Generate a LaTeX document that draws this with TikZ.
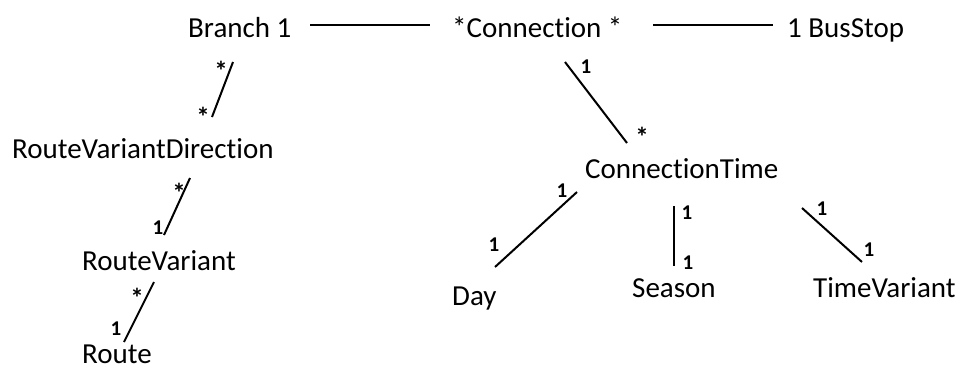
\documentclass[tikz,border=0pt]{standalone}
\usepackage{fontspec}
\setmainfont{Carlito}[Ligatures={NoCommon,NoContextual}]
\begin{document}
\begin{tikzpicture}[x=1pt,y=-1pt,
  cls/.style={inner sep=0pt,anchor=base west,font=\fontsize{29}{34}\selectfont},
  mult/.style={inner sep=0pt,font=\fontsize{21}{24}\selectfont\bfseries},
  star/.style={inner sep=0pt,anchor=north,font=\fontsize{27}{30}\selectfont\bfseries},
  assoc/.style={line width=2pt,black}]
\useasboundingbox (0,0) rectangle (960,370);
% classes
\node[cls] (branch) at (188,37) {Branch 1};
\node[cls] (conn) at (452,37) {*Connection *};
\node[cls] (bus) at (787,37) {1 BusStop};
\node[cls] (rvd) at (12,158) {RouteVariantDirection};
\node[cls] (rv) at (82,270) {RouteVariant};
\node[cls] (route) at (82,363) {Route};
\node[cls] (ct) at (585,178) {ConnectionTime};
\node[cls] (day) at (452,305) {Day};
\node[cls] (season) at (632,297) {Season};
\node[cls] (tv) at (813,297) {TimeVariant};
% connector ends
\coordinate (a1) at (310,25); \coordinate (a2) at (430,25);
\coordinate (b1) at (653,25); \coordinate (b2) at (773,25);
\coordinate (c1) at (233,62); \coordinate (c2) at (212,117);
\coordinate (d1) at (190,178); \coordinate (d2) at (164,235);
\coordinate (e1) at (154,282); \coordinate (e2) at (124,342);
\coordinate (f1) at (565,62); \coordinate (f2) at (627,143);
\coordinate (g1) at (577,192); \coordinate (g2) at (495,267);
\coordinate (h1) at (674,206); \coordinate (h2) at (674,266);
\coordinate (i1) at (802,208); \coordinate (i2) at (862,262);
\draw[assoc] (a1) -- (a2);
\draw[assoc] (b1) -- (b2);
\draw[assoc] (c1) -- (c2);
\draw[assoc] (d1) -- (d2);
\draw[assoc] (e1) -- (e2);
\draw[assoc] (f1) -- (f2);
\draw[assoc] (g1) -- (g2);
\draw[assoc] (h1) -- (h2);
\draw[assoc] (i1) -- (i2);
% multiplicities
\node[star] (m1) at (221,61) {*};
\node[star] (m2) at (203,107) {*};
\node[star] (m3) at (179,183) {*};
\node[mult] (m4) at (158,228) {1};
\node[star] (m5) at (137,288) {*};
\node[mult] (m6) at (116,329) {1};
\node[mult] (m7) at (586,67) {1};
\node[star] (m8) at (642,127) {*};
\node[mult] (m9) at (562,191) {1};
\node[mult] (m10) at (494,245) {1};
\node[mult] (m11) at (687,213) {1};
\node[mult] (m12) at (688,263) {1};
\node[mult] (m13) at (822,209) {1};
\node[mult] (m14) at (869,250) {1};
\end{tikzpicture}
\end{document}
